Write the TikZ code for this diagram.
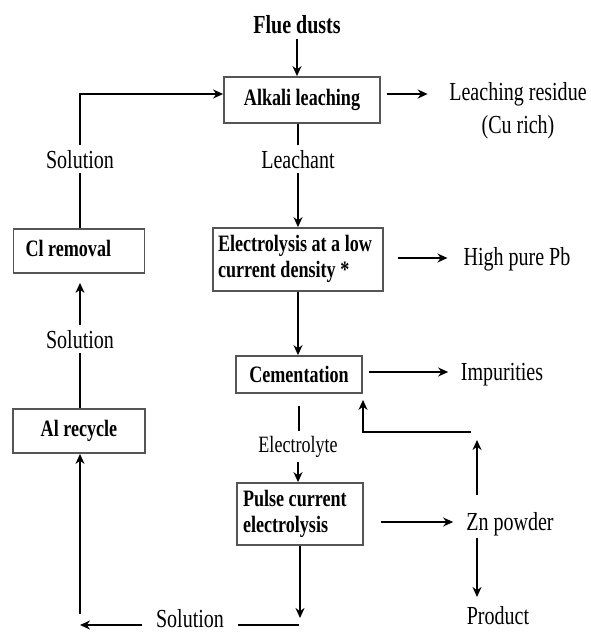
\documentclass[tikz,border=0pt]{standalone}
\usepackage{fontspec}
\setmainfont{Liberation Serif}[FakeStretch=0.77]
\usetikzlibrary{arrows.meta}
\definecolor{boxgray}{RGB}{85,85,85}
\newcommand\bxfont{\fontsize{23.5}{26}\selectfont\bfseries}
\newcommand\lbfont{\fontsize{26}{33}\selectfont}
\newcommand\smfont{\fontsize{23.4}{26}\selectfont}
\newcommand\lefttext[2]{\makebox[#1][l]{\begin{tabular}{@{}l@{}}#2\end{tabular}}}
\begin{document}
\begin{tikzpicture}[x=1pt,y=-1pt,
  box/.style={draw=boxgray, line width=1.8pt, inner sep=0pt, font=\bxfont},
  lbl/.style={inner sep=5pt, font=\lbfont},
  ln/.style={line width=2pt},
  arr/.style={line width=2pt, -{Stealth[length=10pt,width=9pt]}},
]
\fill[white] (0,0) rectangle (590,632);
\useasboundingbox (0,0) rectangle (590,632);

% boxes
\node[box, minimum width=156pt, minimum height=46pt] (alkali) at (302,100) {Alkali leaching};
\node[box, minimum width=170pt, minimum height=63pt] (elec) at (298,259.5) {\lefttext{160pt}{Electrolysis at a low\\current density *}};
\node[box, minimum width=131pt, minimum height=44pt] (cl) at (79,251) {\lefttext{107pt}{Cl removal}};
\node[box, minimum width=126pt, minimum height=37pt] (cem) at (299,374.5) {Cementation};
\node[box, minimum width=132pt, minimum height=44pt] (al) at (79,431) {Al recycle};
\node[box, minimum width=126pt, minimum height=62pt] (pulse) at (300,514) {\lefttext{114pt}{Pulse current\\electrolysis}};

% labels
\node[lbl, font=\lbfont\bfseries, anchor=base] (flue) at (297,33) {Flue dusts};
\node[lbl, anchor=north, align=center] (residue) at (518,77) {Leaching residue\\(Cu rich)};
\node[lbl, anchor=base] (leach) at (298,168) {Leachant};
\node[lbl, anchor=base] (sol1) at (80,168) {Solution};
\node[lbl, anchor=base] (sol2) at (80,348) {Solution};
\node[lbl, anchor=base] (highpb) at (517,265) {High pure Pb};
\node[lbl, anchor=base] (imp) at (502,380) {Impurities};
\node[lbl, anchor=base, font=\smfont] (electrolyte) at (298,452) {Electrolyte};
\node[lbl, anchor=base] (zn) at (510,530) {Zn powder};
\node[lbl, anchor=base] (product) at (498,624) {Product};
\node[lbl, anchor=base] (sol3) at (190,627) {Solution};

% coordinates
\coordinate (tl) at (80,94);
\coordinate (pb) at (299,618);
\coordinate (bl) at (299,625);
\coordinate (lb) at (80,625);
\coordinate (lu) at (80,614);
\coordinate (zu) at (477,495);
\coordinate (zt) at (477,440);
\coordinate (h1) at (471,432);
\coordinate (h2) at (363,432);
\coordinate (zd1) at (477,538);
\coordinate (zd2) at (477,597);

% main column
\draw[arr] (flue.south) -- (flue.south |- alkali.north);
\draw[ln] (alkali.south -| leach) -- (leach.north);
\draw[arr] (leach.south) -- (leach.south |- elec.north);
\draw[arr] (elec.south) -- (elec.south |- cem.north);
\draw[ln, shorten <=12pt] (cem.south) -- (cem.south |- electrolyte.north);
\draw[arr] (electrolyte.south) -- (electrolyte.south |- pulse.north);
\draw[arr] (pulse.south) -- (pulse.south |- pb);

% outputs
\draw[arr, shorten <=6pt, shorten >=16.5pt] ([yshift=6pt]alkali.east) -- ([yshift=6pt]alkali.east -| residue.west);
\draw[arr, shorten <=14pt, shorten >=11pt] ([yshift=1.5pt]elec.east) -- ([yshift=1.5pt]elec.east -| highpb.west);
\draw[arr, shorten <=6pt, shorten >=7.5pt] ([yshift=2.5pt]cem.east) -- ([yshift=2.5pt]cem.east -| imp.west);
\draw[arr, shorten <=17pt, shorten >=8pt] ([yshift=-8pt]pulse.east) -- ([yshift=-8pt]pulse.east -| zn.west);

% Zn feedback
\draw[arr] (zu) -- (zt);
\draw[arr, shorten >=6pt] (h1) -- (h2) -- (h2 |- cem.south);
\draw[arr] (zd1) -- (zd2);

% bottom return loop
\draw[ln, shorten >=9pt] (bl) -- (bl -| sol3.east);
\draw[arr, shorten <=9pt] (sol3.west |- lb) -- (lb);
\draw[arr] (lu) -- (al.south -| lu);
\draw[ln] (al.north -| sol2) -- (sol2.south);
\draw[arr, shorten >=9pt] (sol2.north) -- (sol2.north |- cl.south);
\draw[ln] (cl.north -| sol1) -- (sol1.south);
\draw[arr] (sol1.north) -- (tl) -- (tl -| alkali.west);
\end{tikzpicture}
\end{document}
